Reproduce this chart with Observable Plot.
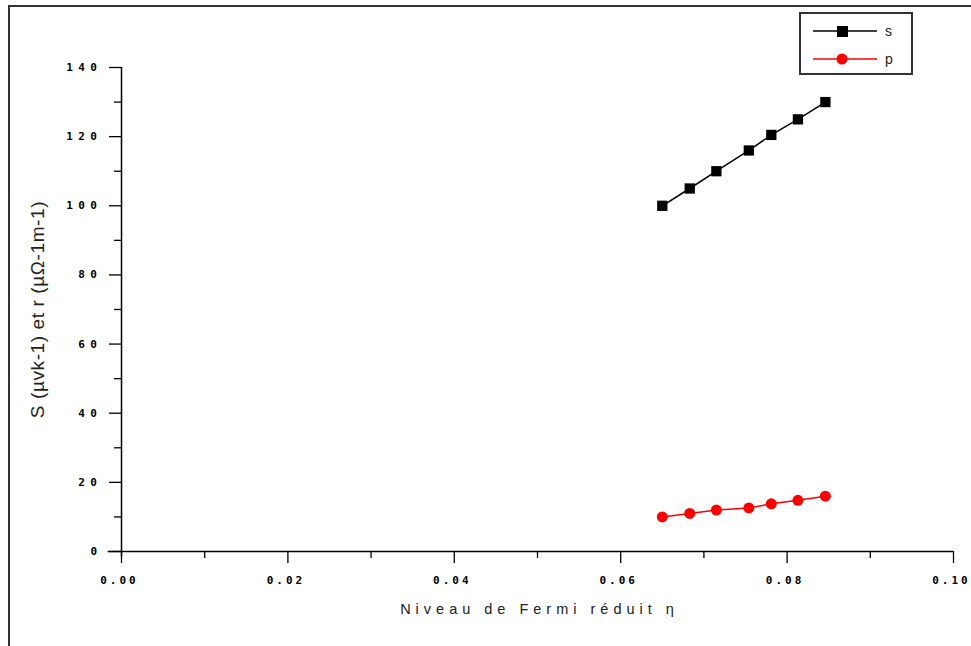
<!DOCTYPE html>
<html>
<head>
<meta charset="utf-8">
<script src="https://cdn.jsdelivr.net/npm/d3@7"></script>
<script src="https://cdn.jsdelivr.net/npm/@observablehq/plot@0.6"></script>
<style>
  html, body { margin: 0; padding: 0; background: #fff; }
  #wrap { position: relative; width: 971px; height: 646px; overflow: hidden; }
  #frame { position: absolute; left: 8px; top: 5px; width: 980px; height: 660px;
           border-top: 2px solid #333; border-left: 2px solid #333; }
  #legend { position: absolute; left: 799px; top: 12px; width: 110px; height: 59px;
            border: 2px solid #333; background: #fff; font-family: "Liberation Sans", Arial, sans-serif; }
  .tky text { letter-spacing: 5.5px; }
  .tkx text { letter-spacing: 3px; }
  .xl text { letter-spacing: 5px; }
  .yl text { letter-spacing: 0.6px; }
</style>
</head>
<body>
<div id="wrap">
  <div id="frame"></div>
  <div id="chart"></div>
  <div id="legend"></div>
</div>
<script>
// Data
const eta = [0.0650, 0.0683, 0.0715, 0.0754, 0.0781, 0.0813, 0.0846];
const sValues = [100, 105, 110, 116, 120.5, 125, 130];
const pValues = [10, 11, 12, 12.6, 13.8, 14.8, 16];
const seriesNames = ["s", "p"];
const seriesColors = ["#000000", "#ff0000"];
const yTicks = [0, 20, 40, 60, 80, 100, 120, 140];
const yMinor = [10, 30, 50, 70, 90, 110, 130];
const xTicks = [0, 0.02, 0.04, 0.06, 0.08, 0.10];
const xMinor = [0.01, 0.03, 0.05, 0.07, 0.09];
const xLabel = "Niveau de Fermi réduit η";
const yLabel = "S (µvk-1) et r (µΩ-1m-1)";

const sData = eta.map((x, i) => ({x, y: sValues[i]}));
const pData = eta.map((x, i) => ({x, y: pValues[i]}));

const tickFont = {fontFamily: "DejaVu Sans Mono, monospace", fontWeight: "bold", fontSize: 11};

const chart = Plot.plot({
  width: 971,
  height: 646,
  marginLeft: 121,
  marginRight: 18,
  marginTop: 67,
  marginBottom: 95,
  x: {domain: [0, 0.1]},
  y: {domain: [0, 140]},
  style: {background: "transparent", overflow: "visible"},
  marks: [
    Plot.ruleX([0], {y1: -1.5, y2: 140, stroke: "black", strokeWidth: 1.5}),
    Plot.ruleY([0], {x1: -0.0016, x2: 0.1, stroke: "black", strokeWidth: 1.5}),
    Plot.axisY(yTicks, {tickSize: 12, tickPadding: 7, tickFormat: d => String(d), ...tickFont, className: "tky", label: null, strokeWidth: 1.3}),
    Plot.axisY(yMinor, {tickSize: 7, text: null, label: null, strokeWidth: 1.3}),
    Plot.axisX(xTicks, {tickSize: 12, text: null, label: null, strokeWidth: 1.3}),
    Plot.axisX(xTicks, {tickSize: 0, tickPadding: 25, dx: -2, tickFormat: d3.format(".2f"), ...tickFont, className: "tkx", label: null}),
    Plot.axisX(xMinor, {tickSize: 7, text: null, label: null, strokeWidth: 1.3}),
    Plot.text([xLabel], {frameAnchor: "bottom", dy: 62, dx: 2, fontSize: 14.5, fontFamily: "Liberation Sans, Arial, sans-serif", className: "xl", fill: "#222"}),
    Plot.text([yLabel], {frameAnchor: "left", textAnchor: "middle", dx: -84, rotate: -90, fontSize: 19, fontFamily: "Liberation Sans, Arial, sans-serif", className: "yl", fill: "#222"}),
    Plot.line(sData, {x: "x", y: "y", stroke: seriesColors[0], strokeWidth: 1.5}),
    Plot.dot(sData, {x: "x", y: "y", symbol: "square", r: 5.8, fill: seriesColors[0], stroke: "none"}),
    Plot.line(pData, {x: "x", y: "y", stroke: seriesColors[1], strokeWidth: 1.5}),
    Plot.dot(pData, {x: "x", y: "y", symbol: "circle", r: 5.5, fill: seriesColors[1], stroke: "none"})
  ]
});
chart.style.position = "absolute";
chart.style.left = "0px";
chart.style.top = "0px";
document.getElementById("chart").appendChild(chart);

// Legend
const legend = d3.select("#legend").append("svg").attr("width", 110).attr("height", 59);
seriesNames.forEach((name, i) => {
  const y = 17 + i * 28;
  const g = legend.append("g");
  g.append("line").attr("x1", 12).attr("x2", 76).attr("y1", y).attr("y2", y)
    .attr("stroke", seriesColors[i]).attr("stroke-width", 1.5);
  if (i === 0) {
    g.append("rect").attr("x", 36).attr("y", y - 5).attr("width", 11).attr("height", 11).attr("fill", seriesColors[i]);
  } else {
    g.append("circle").attr("cx", 41).attr("cy", y).attr("r", 5.5).attr("fill", seriesColors[i]);
  }
  g.append("text").attr("x", 84).attr("y", y + 5).attr("font-size", 14)
    .attr("font-family", "Liberation Sans, Arial, sans-serif").attr("fill", "#222").text(name);
});
</script>
</body>
</html>
